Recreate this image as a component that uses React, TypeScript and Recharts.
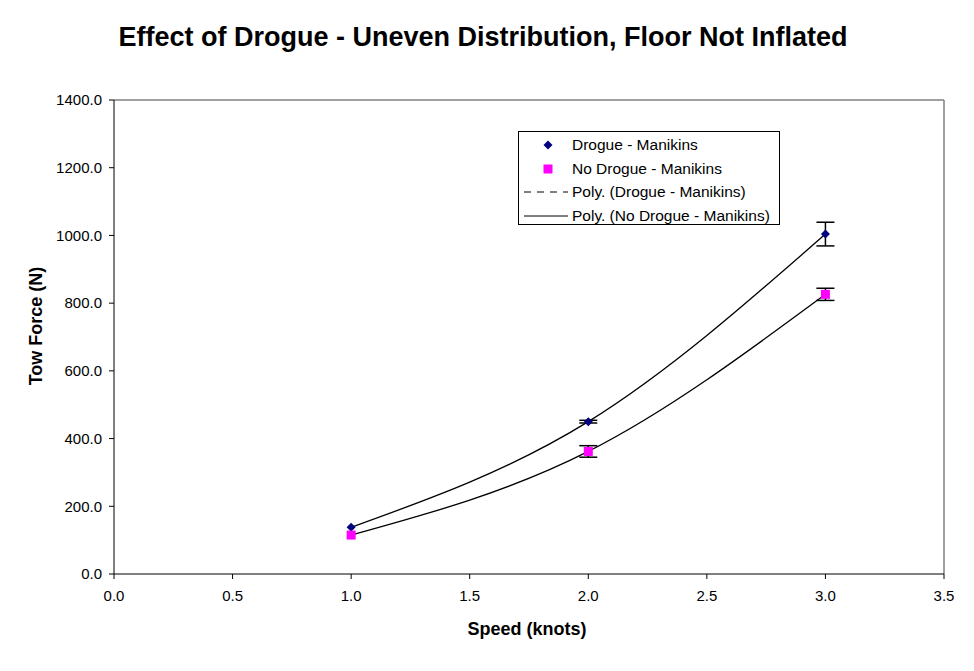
import React from 'react';
import { ComposedChart, Line, Scatter, XAxis, YAxis, ErrorBar, ReferenceLine } from 'recharts';

const speeds = [1.0, 2.0, 3.0];
const drogue = [138, 450, 1004];
const noDrogue = [115, 362, 826];
const drogueErr = [null, 4, 35];
const noDrogueErr = [null, 17, 18];

const xTicks = [0, 0.5, 1.0, 1.5, 2.0, 2.5, 3.0, 3.5];
const yTicks = [0, 200, 400, 600, 800, 1000, 1200, 1400];

const legendItems = [
  { label: 'Drogue - Manikins', kind: 'diamond' },
  { label: 'No Drogue - Manikins', kind: 'square' },
  { label: 'Poly. (Drogue - Manikins)', kind: 'dashed' },
  { label: 'Poly. (No Drogue - Manikins)', kind: 'solid' },
];

const data = speeds.map((s, i) => ({
  speed: s,
  drogue: drogue[i],
  noDrogue: noDrogue[i],
  drogueErr: drogueErr[i],
  noDrogueErr: noDrogueErr[i],
}));

const FONT = '"Liberation Sans", Arial, sans-serif';

const Diamond = (props: any) => {
  const { cx, cy } = props;
  const r = 4.5;
  return <polygon points={`${cx},${cy - r} ${cx + r},${cy} ${cx},${cy + r} ${cx - r},${cy}`} fill="#000080" />;
};

const Square = (props: any) => {
  const { cx, cy } = props;
  return <rect x={cx - 4.5} y={cy - 4.5} width={9} height={9} fill="#FF00FF" />;
};

const LegendBox = () => (
  <div
    style={{
      position: 'absolute',
      left: 518,
      top: 131,
      width: 260,
      height: 92,
      border: '1px solid #000',
      background: '#fff',
      fontFamily: FONT,
      fontSize: 15.5,
    }}
  >
    {legendItems.map((item, i) => (
      <div key={item.label} style={{ position: 'absolute', left: 0, top: 3 + i * 23.5, height: 20, display: 'flex', alignItems: 'center' }}>
        <svg width={52} height={20}>
          {item.kind === 'diamond' && <polygon points="29,5.5 33.5,10 29,14.5 24.5,10" fill="#000080" />}
          {item.kind === 'square' && <rect x={24.5} y={5.5} width={9} height={9} fill="#FF00FF" />}
          {item.kind === 'dashed' && <line x1={5} x2={49} y1={10} y2={10} stroke="#000" strokeDasharray="7 6" />}
          {item.kind === 'solid' && <line x1={5} x2={49} y1={10} y2={10} stroke="#000" />}
        </svg>
        <span style={{ marginLeft: 1, whiteSpace: 'nowrap' }}>{item.label}</span>
      </div>
    ))}
  </div>
);

export default function App() {
  return (
    <div style={{ position: 'relative', width: 974, height: 671, margin: -8, background: '#fff', fontFamily: FONT }}>
      <div style={{ position: 'absolute', left: 0, top: 22, width: 966, textAlign: 'center', fontWeight: 'bold', fontSize: 27 }}>
        Effect of Drogue - Uneven Distribution, Floor Not Inflated
      </div>
      <ComposedChart
        width={974}
        height={671}
        data={data}
        margin={{ top: 100, right: 30, bottom: 37, left: 0 }}
        style={{ position: 'absolute', left: 0, top: 0 }}
      >
        <XAxis
          dataKey="speed"
          type="number"
          domain={[0, 3.5]}
          ticks={xTicks}
          tickFormatter={(v: number) => v.toFixed(1)}
          axisLine={{ stroke: '#000' }}
          tickLine={{ stroke: '#000' }}
          tickSize={5}
          tickMargin={11}
          height={60}
          tick={{ fill: '#000', fontSize: 15, fontFamily: FONT }}
          interval={0}
        />
        <YAxis
          type="number"
          domain={[0, 1400]}
          ticks={yTicks}
          tickFormatter={(v: number) => v.toFixed(1)}
          axisLine={{ stroke: '#000' }}
          tickLine={{ stroke: '#000' }}
          tickSize={5}
          tickMargin={7}
          width={114}
          tick={{ fill: '#000', fontSize: 15, fontFamily: FONT }}
          interval={0}
        />
        <ReferenceLine y={1400} stroke="#808080" strokeWidth={1.5} />
        <ReferenceLine x={3.5} stroke="#808080" strokeWidth={1.5} />
        <Scatter dataKey="drogue" shape={Diamond} isAnimationActive={false}>
          <ErrorBar dataKey="drogueErr" direction="y" width={9} stroke="#000" strokeWidth={1.5} />
        </Scatter>
        <Scatter dataKey="noDrogue" shape={Square} isAnimationActive={false}>
          <ErrorBar dataKey="noDrogueErr" direction="y" width={9} stroke="#000" strokeWidth={1.5} />
        </Scatter>
        <Line type="monotone" dataKey="drogue" stroke="#000" strokeWidth={1.3} dot={false} activeDot={false} isAnimationActive={false} />
        <Line type="monotone" dataKey="noDrogue" stroke="#000" strokeWidth={1.3} dot={false} activeDot={false} isAnimationActive={false} />
      </ComposedChart>
      <div
        style={{
          position: 'absolute',
          left: 36,
          top: 326,
          transform: 'translate(-50%, -50%) rotate(-90deg)',
          fontWeight: 'bold',
          fontSize: 18,
          whiteSpace: 'nowrap',
        }}
      >
        Tow Force (N)
      </div>
      <div
        style={{
          position: 'absolute',
          left: 527,
          top: 629,
          transform: 'translate(-50%, -50%)',
          fontWeight: 'bold',
          fontSize: 18,
          whiteSpace: 'nowrap',
        }}
      >
        Speed (knots)
      </div>
      <LegendBox />
      <div
        style={{
          position: 'absolute',
          left: 5,
          top: 2,
          width: 964,
          height: 666,
          boxShadow: '0 0 0 1.5px #000',
          zIndex: 10,
          pointerEvents: 'none',
        }}
      />
    </div>
  );
}
